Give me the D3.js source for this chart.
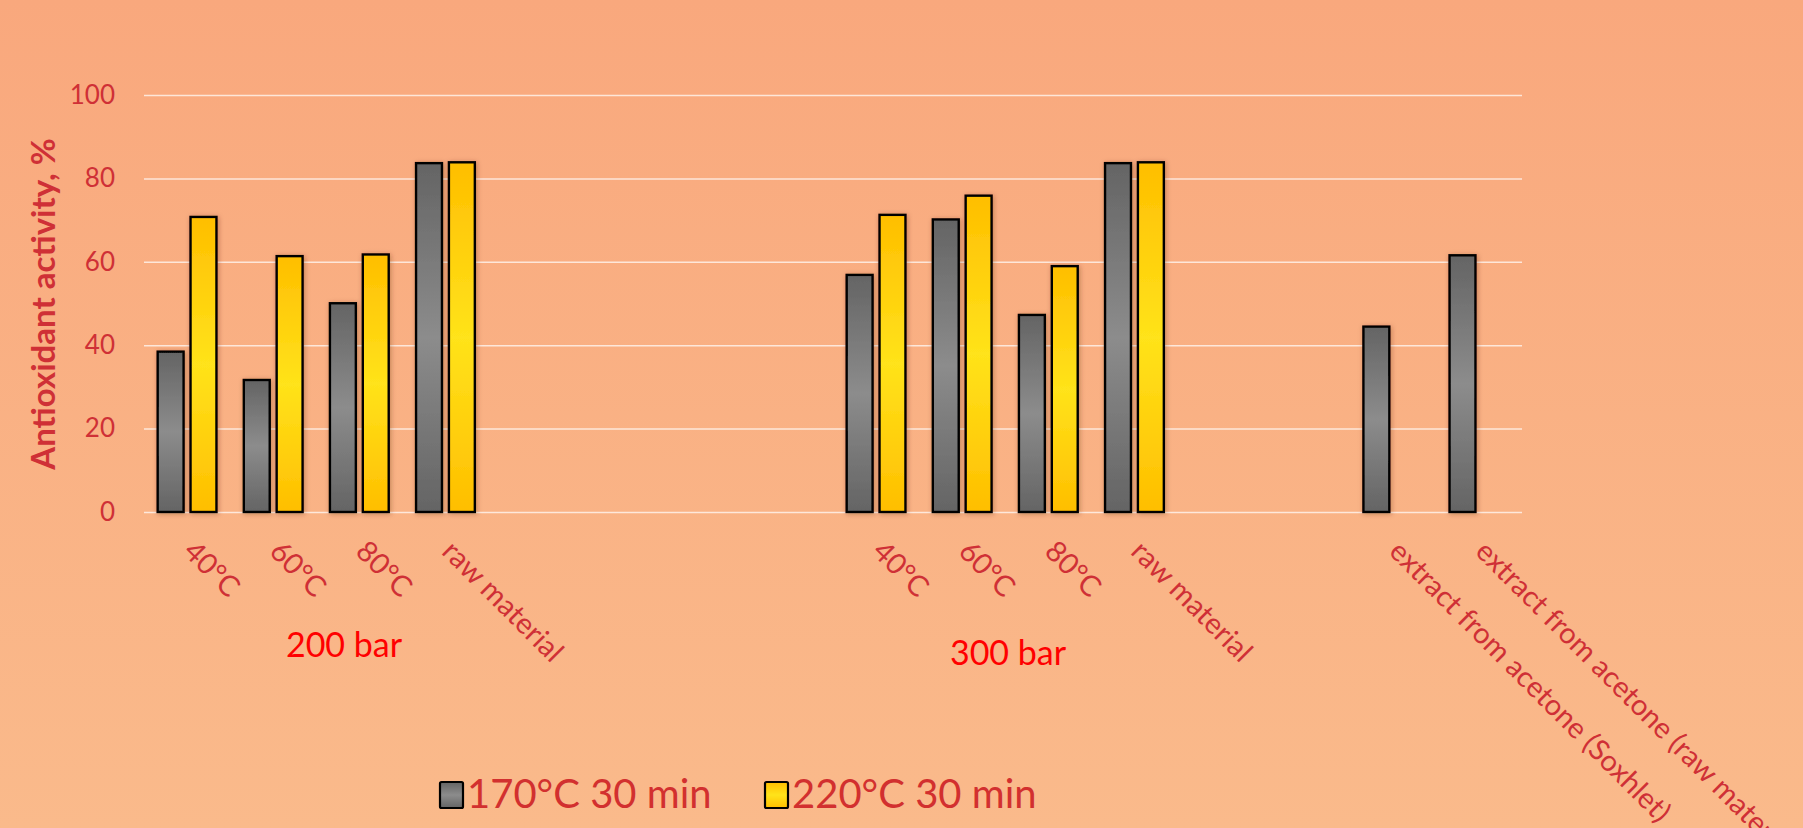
<!DOCTYPE html>
<html>
<head>
<meta charset="utf-8">
<script src="https://cdn.jsdelivr.net/npm/d3@7"></script>
<style>
  html, body { margin: 0; padding: 0; overflow: hidden; }
  body { width: 1803px; height: 828px; }
  svg { display: block; font-family: Lato, "Open Sans", sans-serif; }
</style>
</head>
<body>
<svg id="chart" width="1803" height="828"></svg>
<script>
// Category slots along the x axis (empty strings are spacer slots between groups)
const categories = [
  "40°C", "60°C", "80°C", "raw material",
  "", "", "", "",
  "40°C", "60°C", "80°C", "raw material",
  "", "",
  "extract from acetone (Soxhlet)", "extract from acetone (raw material)"
];
// Antioxidant activity, % — one value per category slot (null = no bar)
const series170 = [38.7, 31.9, 50.3, 83.9, null, null, null, null, 57.1, 70.4, 47.5, 83.9, null, null, 44.7, 61.8];
const series220 = [71.0, 61.6, 62.0, 84.1, null, null, null, null, 71.5, 76.1, 59.2, 84.1, null, null, null, null];
const seriesNames = ["170°C 30 min", "220°C 30 min"];
const yTicks = [0, 20, 40, 60, 80, 100];
const groupLabels = ["200 bar", "300 bar"];
const yTitle = "Antioxidant activity, %";

const W = 1803, H = 828;
const margin = { top: 95, right: 281, bottom: 316, left: 144 };
const plotW = W - margin.left - margin.right;
const plotH = H - margin.top - margin.bottom;

const svg = d3.select("#chart");
const defs = svg.append("defs");

// Background gradient
const bg = defs.append("linearGradient").attr("id", "bg").attr("x1", 0).attr("y1", 0).attr("x2", 0).attr("y2", 1);
bg.append("stop").attr("offset", "0%").attr("stop-color", "#F9A87D");
bg.append("stop").attr("offset", "100%").attr("stop-color", "#FABA8B");

// Bar fills: darker at top and bottom, lighter in the middle
function bandGradient(id, edge, mid) {
  const g = defs.append("linearGradient").attr("id", id).attr("x1", 0).attr("y1", 0).attr("x2", 0).attr("y2", 1);
  g.append("stop").attr("offset", "0%").attr("stop-color", edge);
  g.append("stop").attr("offset", "50%").attr("stop-color", mid);
  g.append("stop").attr("offset", "100%").attr("stop-color", edge);
}
bandGradient("gGray", "#646464", "#8C8C8C");
bandGradient("gGold", "#FFBE00", "#FFE31A");

const shadow = defs.append("filter").attr("id", "shadow").attr("x", "-30%").attr("y", "-10%").attr("width", "160%").attr("height", "120%");
shadow.append("feDropShadow").attr("dx", 1).attr("dy", 1).attr("stdDeviation", 2.5)
  .attr("flood-color", "#5a2a10").attr("flood-opacity", 0.35);

svg.append("rect").attr("width", W).attr("height", H).attr("fill", "url(#bg)");

const g = svg.append("g").attr("transform", `translate(${margin.left},${margin.top})`);

const x = d3.scaleBand().domain(d3.range(categories.length)).range([0, plotW]).paddingInner(0).paddingOuter(0);
const inner = d3.scaleBand().domain([0, 1])
  .range([x.bandwidth() * 0.147, x.bandwidth() * 0.853]).paddingInner(0.15).paddingOuter(0);
const y = d3.scaleLinear().domain([0, 100]).range([plotH, 0]);

// Gridlines
g.append("g").attr("class", "grid")
  .call(d3.axisLeft(y).tickValues(yTicks).tickSize(-plotW).tickFormat(""))
  .call(s => s.select(".domain").remove())
  .call(s => s.selectAll("line").attr("stroke", "#FFFFFF").attr("stroke-opacity", 0.7).attr("stroke-width", 1.5));

// Y tick labels
g.append("g")
  .call(d3.axisLeft(y).tickValues(yTicks).tickSize(0).tickPadding(29))
  .call(s => s.select(".domain").remove())
  .call(s => s.selectAll("text").attr("fill", "#CF3036").attr("font-size", 26).attr("font-family", "Lato, sans-serif"));

// Bars
const seriesData = [series170, series220];
const fills = ["url(#gGray)", "url(#gGold)"];
seriesData.forEach((vals, si) => {
  g.append("g").selectAll("rect")
    .data(vals.map((v, i) => ({ i, v })).filter(d => d.v !== null))
    .join("rect")
    .attr("x", d => x(d.i) + inner(si) + 1)
    .attr("y", d => y(d.v) + 1)
    .attr("width", inner.bandwidth() - 2)
    .attr("height", d => plotH - y(d.v) - 1)
    .attr("fill", fills[si])
    .attr("stroke", "#000")
    .attr("stroke-width", 2.4)
    .attr("filter", "url(#shadow)");
});

// Rotated category labels
g.append("g").selectAll("text")
  .data(categories.map((c, i) => ({ c, i })).filter(d => d.c !== ""))
  .join("text")
  .attr("transform", d => `translate(${x(d.i) + x.bandwidth() / 2 - 5},${plotH + 41}) rotate(45)`)
  .attr("text-anchor", "start")
  .attr("fill", "#CF3036")
  .attr("font-size", 29)
  .text(d => d.c);

// Group labels under the categories
const groupPos = [{ x: 344, y: 657 - margin.top }, { x: 1008, y: 665 - margin.top }];
g.append("g").selectAll("text")
  .data(groupLabels)
  .join("text")
  .attr("x", (d, i) => groupPos[i].x - margin.left)
  .attr("y", (d, i) => groupPos[i].y)
  .attr("text-anchor", "middle")
  .attr("fill", "#FF0000")
  .attr("font-size", 34)
  .text(d => d);

// Y axis title
svg.append("text")
  .attr("transform", `translate(55,304) rotate(-90)`)
  .attr("text-anchor", "middle")
  .attr("fill", "#CF3036")
  .attr("font-size", 33)
  .attr("font-weight", "bold")
  .text(yTitle);

// Legend
const legendItems = [{ x: 440, fill: "url(#gGray)" }, { x: 765, fill: "url(#gGold)" }];
const legend = svg.append("g").selectAll("g")
  .data(seriesNames)
  .join("g")
  .attr("transform", (d, i) => `translate(${legendItems[i].x},782)`);
legend.append("rect")
  .attr("width", 23).attr("height", 26)
  .attr("fill", (d, i) => legendItems[i].fill)
  .attr("stroke", "#000").attr("stroke-width", 2.2).attr("rx", 1.5);
legend.append("text")
  .attr("x", 27).attr("y", 26)
  .attr("fill", "#D2302F")
  .attr("font-size", 40)
  .text(d => d);
</script>
</body>
</html>
